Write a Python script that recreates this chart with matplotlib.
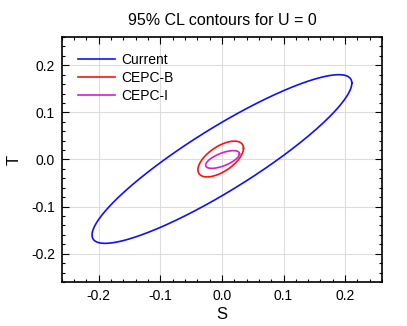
import numpy as np
import matplotlib
matplotlib.use("Agg")
import matplotlib.pyplot as plt
from matplotlib.ticker import MultipleLocator

plt.rcParams['font.family'] = ['Liberation Sans', 'DejaVu Sans']

labels = ["Current", "CEPC-B", "CEPC-I"]
colors = ["#1010ff", "#ff1010", "#d020d0"]
centers_S = [0.0, -0.002, 0.001]
centers_T = [0.001, 0.001, 0.0]
sigma_S = [0.211, 0.037, 0.0275]
sigma_T = [0.179, 0.038, 0.0188]
rho = [0.90, 0.60, 0.64]

fig = plt.figure(figsize=(4.07, 3.26), dpi=100)
ax = fig.add_axes([0.152, 0.135, 0.7866, 0.7515])

t = np.linspace(0, 2 * np.pi, 400)
for lab, c, cs, ct, sx, sy, r in zip(labels, colors, centers_S, centers_T, sigma_S, sigma_T, rho):
    x = cs + sx * np.cos(t)
    y = ct + sy * (r * np.cos(t) + np.sqrt(1 - r * r) * np.sin(t))
    ax.plot(x, y, color=c, lw=1.2, label=lab)

ax.set_xlim(-0.26, 0.26)
ax.set_ylim(-0.26, 0.26)
ax.xaxis.set_major_locator(MultipleLocator(0.1))
ax.yaxis.set_major_locator(MultipleLocator(0.1))
ax.xaxis.set_minor_locator(MultipleLocator(0.02))
ax.yaxis.set_minor_locator(MultipleLocator(0.02))
ax.xaxis.set_major_formatter(matplotlib.ticker.FormatStrFormatter('%.1f'))
ax.yaxis.set_major_formatter(matplotlib.ticker.FormatStrFormatter('%.1f'))
ax.tick_params(which='both', direction='in', top=True, right=True, labelsize=10, colors='black')
ax.tick_params(which='major', length=5, width=0.8, pad=5)
ax.tick_params(which='minor', length=2.5, width=0.8)
ax.grid(True, which='major', color='#dddddd', lw=0.8)
ax.set_axisbelow(True)
for s in ax.spines.values():
    s.set_linewidth(1.2)

ax.set_xlabel("S", fontsize=12, labelpad=3)
ax.set_ylabel("T", fontsize=12, labelpad=7, rotation=90)
ax.set_title("95% CL contours for U = 0", fontsize=11.5, pad=9)

leg = ax.legend(loc='upper left', frameon=False, fontsize=10, handlelength=2.65,
                handletextpad=0.5, labelspacing=0.3, borderaxespad=0.75)

fig.savefig("out.png", dpi=100)
